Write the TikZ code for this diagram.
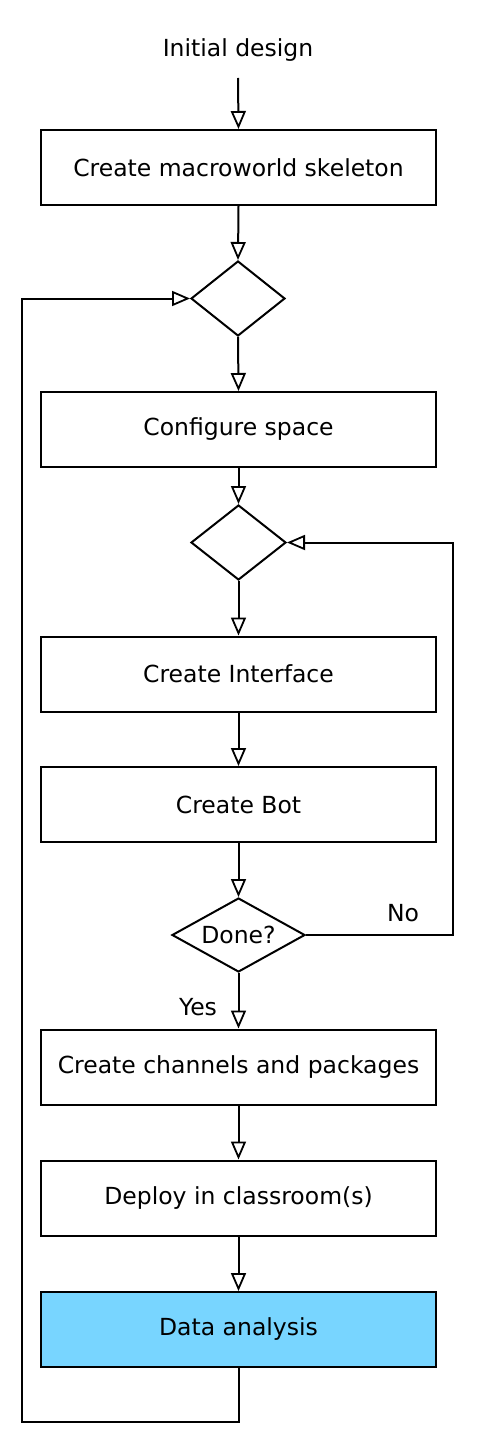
\documentclass[tikz,border=0pt]{standalone}
\usepackage{fontspec}
\setmainfont{DejaVu Sans}
\usetikzlibrary{arrows.meta,shapes.geometric}
\definecolor{boxblue}{HTML}{78D5FF}
\tikzset{
  txt/.style={font=\fontsize{23.5}{26}\selectfont},
  stepbox/.style={draw, line width=2pt, minimum width=395pt, minimum height=75pt, inner sep=0pt, txt},
  choice/.style={draw, diamond, line width=2pt, inner sep=0pt, txt},
  arr/.style={line width=2pt, -{Triangle[open, length=18pt, width=15pt, line width=1.8pt]}},
  lbl/.style={txt}
}
\begin{document}
\begin{tikzpicture}[x=1pt,y=-1pt]
\useasboundingbox (0,0) rectangle (477,1447);
\node[lbl] (start) at (238,50) {Initial design};
\coordinate (s0) at (238,78);
\node[stepbox] (b1) at (238.5,167.5) {Create macroworld skeleton};
\node[choice, minimum width=94pt, minimum height=75pt] (d1) at (238,298.5) {};
\node[stepbox] (b2) at (238.5,429.5) {Configure space};
\node[choice, minimum width=95pt, minimum height=75pt] (d2) at (238.5,542.5) {};
\node[stepbox] (b3) at (238.5,674) {Create Interface};
\node[stepbox] (b4) at (238.5,804.5) {Create Bot};
\node[choice, minimum width=133pt, minimum height=74pt] (d3) at (238.5,935) {\smash{\raisebox{-8.5pt}{\makebox[0pt]{Done?}}}};
\node[stepbox] (b5) at (238.5,1067) {Create channels and packages};
\node[stepbox] (b6) at (238.5,1198) {Deploy in classroom(s)};
\node[stepbox, fill=boxblue] (b7) at (238.5,1329.5) {Data analysis};
\coordinate (c1) at (22,1422);
\coordinate (c2) at (453,935);
\node[lbl] (no) at (403,913) {No};
\node[lbl] (yes) at (198,1007) {Yes};

\draw[arr] (s0) -- (b1.north);
\draw[arr] (b1.south) -- (d1.north);
\draw[arr] (d1.south) -- (b2.north);
\draw[arr] (b2.south) -- (d2.north);
\draw[arr] (d2.south) -- (b3.north);
\draw[arr] (b3.south) -- (b4.north);
\draw[arr] (b4.south) -- (d3.north);
\draw[arr] (d3.south) -- (b5.north);
\draw[arr] (b5.south) -- (b6.north);
\draw[arr] (b6.south) -- (b7.north);
\draw[arr] (d3.east) -- (c2) |- (d2.east);
\draw[arr] (b7.south) |- (c1) |- (d1.west);
\end{tikzpicture}
\end{document}
